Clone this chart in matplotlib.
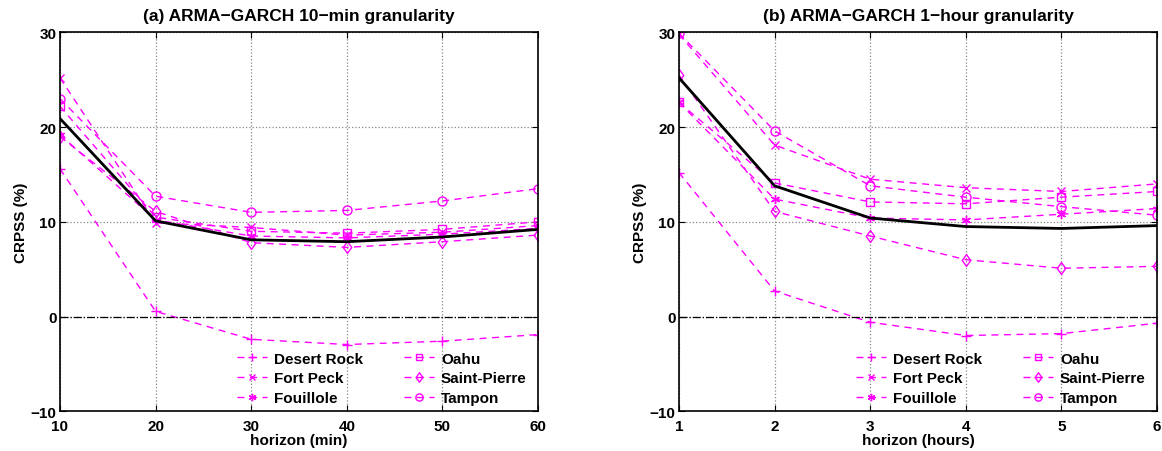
import matplotlib
matplotlib.use("Agg")
import matplotlib.pyplot as plt
from matplotlib.path import Path

plt.rcParams['font.family'] = ['Liberation Sans', 'DejaVu Sans']
plt.rcParams['font.weight'] = 'bold'

stations = ["Desert Rock", "Fort Peck", "Fouillole", "Oahu", "Saint-Pierre", "Tampon"]

# MATLAB-like diamond (wider than matplotlib's 'd')
diamond = Path([(0, 1), (0.72, 0), (0, -1), (-0.72, 0), (0, 1)],
               [Path.MOVETO, Path.LINETO, Path.LINETO, Path.LINETO, Path.CLOSEPOLY])
markers = ['+', 'x', (6, 2, 0), 's', diamond, 'o']
msizes = [7, 5.5, 6.5, 5.5, 8.5, 6.5]

# (a) 10-min granularity
h_min = [10, 20, 30, 40, 50, 60]
desert_rock_a = [15.6, 0.55, -2.4, -2.95, -2.6, -1.9]
fort_peck_a = [25.2, 9.9, 9.4, 8.6, 8.9, 9.6]
fouillole_a = [19.2, 10.2, 8.5, 8.3, 8.7, 9.3]
oahu_a = [22.2, 10.5, 9.0, 8.8, 9.2, 10.0]
saint_pierre_a = [19.0, 11.1, 7.8, 7.3, 7.9, 8.6]
tampon_a = [23.0, 12.7, 11.0, 11.2, 12.2, 13.5]
mean_a = [20.9, 10.1, 8.1, 7.9, 8.4, 9.2]

# (b) 1-hour granularity
h_hour = [1, 2, 3, 4, 5, 6]
desert_rock_b = [15.2, 2.7, -0.6, -2.0, -1.8, -0.7]
fort_peck_b = [29.8, 18.1, 14.5, 13.6, 13.2, 14.0]
fouillole_b = [22.6, 12.4, 10.4, 10.2, 10.8, 11.4]
oahu_b = [22.6, 14.1, 12.1, 11.9, 12.6, 13.2]
saint_pierre_b = [25.5, 11.1, 8.5, 6.0, 5.1, 5.3]
tampon_b = [29.9, 19.6, 13.8, 12.6, 11.6, 10.7]
mean_b = [25.2, 13.8, 10.4, 9.5, 9.3, 9.6]

series_a = [desert_rock_a, fort_peck_a, fouillole_a, oahu_a, saint_pierre_a, tampon_a]
series_b = [desert_rock_b, fort_peck_b, fouillole_b, oahu_b, saint_pierre_b, tampon_b]

fig = plt.figure(figsize=(11.62, 4.52), dpi=100)
ax1 = fig.add_axes([0.0516, 0.0878, 0.4114, 0.8385])
ax2 = fig.add_axes([0.5843, 0.0878, 0.4114, 0.8385])

panels = [
    (ax1, h_min, series_a, mean_a, "(a) ARMA\u2212GARCH 10\u2212min granularity", "horizon (min)"),
    (ax2, h_hour, series_b, mean_b, "(b) ARMA\u2212GARCH 1\u2212hour granularity", "horizon (hours)"),
]

for ax, x, series, mean, title, xlabel in panels:
    for name, vals, m, ms in zip(stations, series, markers, msizes):
        ax.plot(x, vals, '--', color='magenta', marker=m, markerfacecolor='none',
                markeredgecolor='magenta', markersize=ms, markeredgewidth=1,
                linewidth=1, dashes=(5, 4), label=name)
    ax.plot(x, mean, '-', color='black', linewidth=2)
    ax.axhline(0, color='black', linestyle='-.', linewidth=0.9)
    ax.set_xlim(x[0], x[-1])
    ax.set_ylim(-10, 30)
    ax.set_xticks(x)
    ax.set_yticks([-10, 0, 10, 20, 30])
    ax.set_yticklabels(['\u221210', '0', '10', '20', '30'])
    ax.grid(True, linestyle=':', color='#888888', linewidth=0.9)
    ax.tick_params(direction='in', labelsize=11, length=4, top=True, right=True)
    ax.tick_params(axis='y', pad=2.5)
    ax.tick_params(axis='x', pad=5.5)
    for s in ax.spines.values():
        s.set_linewidth(1.2)
    ax.set_title(title, fontsize=12.5, fontweight='bold', pad=9)
    ax.set_xlabel(xlabel, fontsize=11, fontweight='bold', labelpad=0)
    ax.set_ylabel("CRPSS (%)", fontsize=11, fontweight='bold', labelpad=2)
    ax.legend(ncol=2, loc='lower left', frameon=False, fontsize=11,
              handlelength=1.96, handletextpad=0.48, columnspacing=2.64,
              labelspacing=0.38, markerscale=0.8, borderaxespad=0,
              bbox_to_anchor=(0.3575, 0.0))

fig.savefig("out.png", dpi=100)
